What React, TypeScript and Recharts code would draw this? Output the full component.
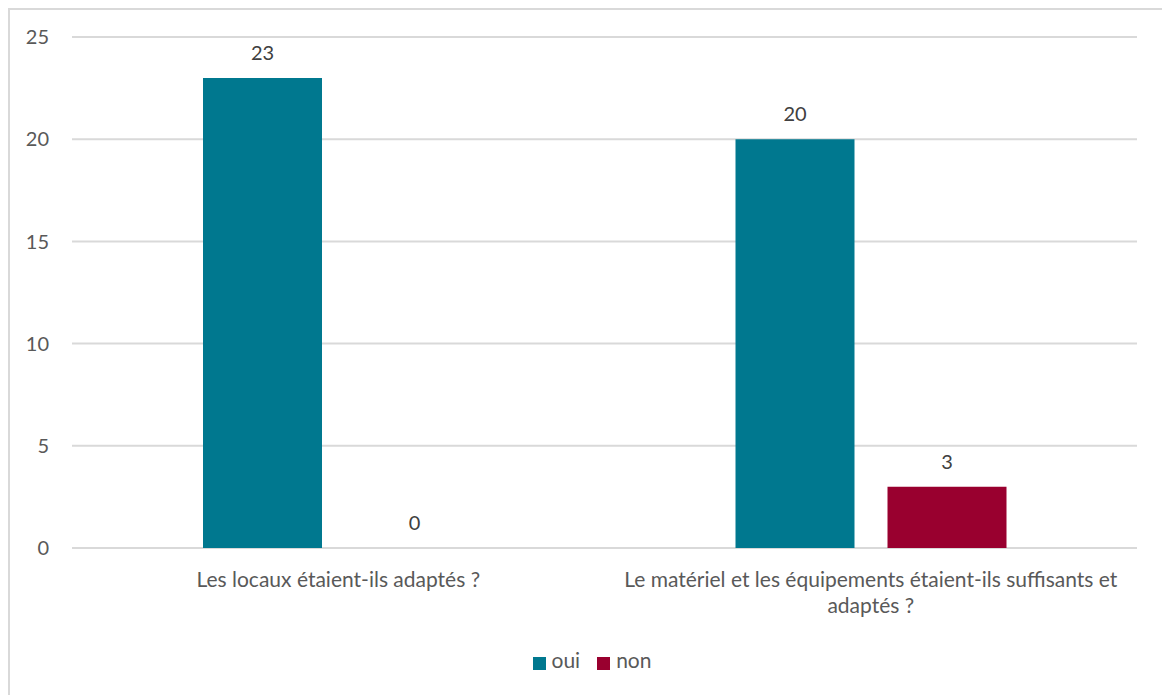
import { Bar, BarChart, CartesianGrid, LabelList, Legend, XAxis, YAxis } from "recharts";

const questions = [
  "Les locaux étaient-ils adaptés ?",
  "Le matériel et les équipements étaient-ils suffisants et adaptés ?",
];
const seriesNames = ["oui", "non"];
const ouiValues = [23, 20];
const nonValues = [0, 3];
const yTicks = [0, 5, 10, 15, 20, 25];

const data = questions.map((q, i) => ({ q, oui: ouiValues[i], non: nonValues[i] }));

const FONT = "Lato, 'Open Sans', sans-serif";
const TEXT = "#595959";
const TICK_FONT = `21px ${FONT}`;

let ctx: CanvasRenderingContext2D | null = null;
function measure(s: string) {
  if (!ctx) ctx = document.createElement("canvas").getContext("2d");
  if (!ctx) return s.length * 10;
  ctx.font = TICK_FONT;
  return ctx.measureText(s).width;
}

// greedy word wrap for the category labels
function wrap(label: string, maxWidth: number) {
  const lines: string[] = [];
  let cur = "";
  for (const w of label.split(" ")) {
    const next = cur ? cur + " " + w : w;
    if (cur && measure(next) > maxWidth) {
      lines.push(cur);
      cur = w;
    } else cur = next;
  }
  if (cur) lines.push(cur);
  return lines;
}

function QuestionTick({ x, y, payload }: any) {
  const lines = wrap(String(payload.value), 500);
  return (
    <text x={x} y={y} textAnchor="middle" fill={TEXT} fontSize={21} fontFamily={FONT}>
      {lines.map((l, i) => (
        <tspan key={i} x={x} dy={i === 0 ? 15 : 26}>
          {l}
        </tspan>
      ))}
    </text>
  );
}

// draws the value above the bar, also for zero-height bars
function ValueLabel({ x, y, width, value }: any) {
  return (
    <text
      x={Number(x) + Number(width) / 2}
      y={Number(y) - 18}
      textAnchor="middle"
      fill="#404040"
      fontSize={20}
      fontFamily={FONT}
    >
      {value}
    </text>
  );
}

export default function App() {
  return (
    <div
      style={{
        position: "fixed",
        left: 8,
        top: 8,
        width: 1160,
        height: 700,
        border: "2px solid #d9d9d9",
        background: "#fff",
        fontFamily: FONT,
      }}
    >
      <BarChart
        width={1152}
        height={685}
        data={data}
        margin={{ top: 27, right: 25, left: 0, bottom: 22 }}
        barSize={119}
        barGap={33}
      >
        <CartesianGrid vertical={false} stroke="#d9d9d9" strokeWidth={2} />
        <XAxis
          dataKey="q"
          height={101}
          axisLine={false}
          tickLine={false}
          tickSize={0}
          tickMargin={24}
          tick={<QuestionTick />}
          interval={0}
        />
        <YAxis
          width={62}
          domain={[0, 25]}
          ticks={yTicks}
          axisLine={false}
          tickLine={false}
          tickSize={0}
          tickMargin={23}
          tick={{ fill: TEXT, fontSize: 20, fontFamily: FONT }}
        />
        <Legend
          iconType="square"
          iconSize={13}
          itemSorter={(item: any) => seriesNames.indexOf(item.value)}
          wrapperStyle={{ lineHeight: "22px", paddingLeft: 27 }}
          formatter={(v) => (
            <span style={{ color: TEXT, fontSize: 21, marginLeft: 2, marginRight: 7 }}>{v}</span>
          )}
        />
        <Bar dataKey="oui" name="oui" fill="#00788F" isAnimationActive={false}>
          <LabelList dataKey="oui" content={<ValueLabel />} />
        </Bar>
        <Bar
          dataKey="non"
          name="non"
          fill="#99002F"
          minPointSize={(v: any) => (v === 0 ? 0.01 : 0)}
          isAnimationActive={false}
        >
          <LabelList dataKey="non" content={<ValueLabel />} />
        </Bar>
      </BarChart>
    </div>
  );
}
